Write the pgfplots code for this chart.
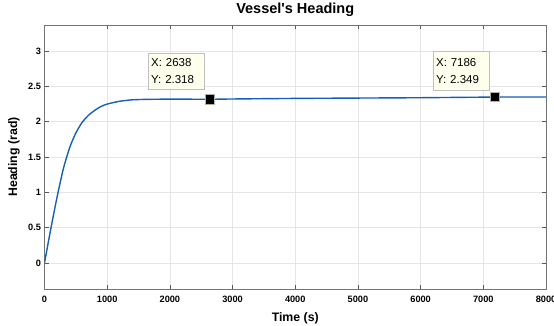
\documentclass[border=0pt]{standalone}
\usepackage{fontspec}
\setmainfont{Liberation Sans}
\usepackage{pgfplots}
\pgfplotsset{compat=1.18}
\definecolor{mblue}{rgb}{0.09,0.37,0.72}
\definecolor{tipbg}{RGB}{255,255,238}
\begin{document}
\begin{tikzpicture}
\begin{axis}[
 scale only axis, width=501.5pt, height=264pt,
 xmin=0, xmax=8000, ymin=-0.37, ymax=3.37,
 xtick={0,1000,...,8000}, ytick={0,0.5,1,1.5,2,2.5,3},
 yticklabels={0,0.5,1,1.5,2,2.5,3},
 grid=major, grid style={color=black!10, line width=0.5pt},
 axis line style={color=black!55, line width=0.7pt},
 tick pos=both, tick align=inside, major tick length=4pt,
 tick style={color=black!65, line width=0.5pt},
 ticklabel style={font=\bfseries\fontsize{9.2}{10}\selectfont},
 xticklabel style={yshift=-3.5pt},
 /pgf/number format/assume math mode=true,
 /pgf/number format/1000 sep={},
 xlabel={Time (s)}, ylabel={Heading (rad)},
 label style={font=\bfseries\fontsize{12.3}{14}\selectfont},
 xlabel style={at={(rel axis cs:0.5,0)}, anchor=base, yshift=-32pt},
 ylabel style={at={(rel axis cs:0,0.5)}, anchor=center, yshift=30.5pt},
 title={Vessel\textquotesingle s Heading},
 title style={font=\bfseries\fontsize{14.5}{16}\selectfont, at={(rel axis cs:0.5,1)}, anchor=base, yshift=5pt},
]
\addplot[color=mblue, line width=1.4pt, smooth, tension=0.4] coordinates {
(0,0) (100,0.48) (200,0.93) (300,1.33) (400,1.63) (500,1.84) (600,1.99)
(700,2.09) (800,2.16) (900,2.215) (1000,2.25) (1200,2.29) (1400,2.31)
(1600,2.316) (2000,2.32) (2638,2.318) (3000,2.322) (4000,2.33)
(5000,2.335) (6000,2.34) (7186,2.349) (8000,2.35)};
\addplot[only marks, mark=square*, mark size=4.6pt,
  mark options={fill=black, draw=tipbg!70!black, line width=0.4pt}]
  coordinates {(2638,2.318) (7186,2.349)};
\node[draw=black!25, fill=tipbg, anchor=north west, align=left,
  font=\fontsize{11.5}{17}\selectfont, inner xsep=3pt, inner ysep=3pt,
  minimum width=56pt, minimum height=36pt, text width=50pt]
  at (axis cs:1651,2.97) {X: 2638\\Y: 2.318};
\node[draw=black!25, fill=tipbg, anchor=north west, align=left,
  font=\fontsize{11.5}{17}\selectfont, inner xsep=3pt, inner ysep=3pt,
  minimum width=56pt, minimum height=39pt, text width=50pt]
  at (axis cs:6196,3.0) {X: 7186\\Y: 2.349};
\coordinate (o) at (rel axis cs:0,0);
\coordinate (t) at (rel axis cs:1,1);
\end{axis}
\pgfresetboundingbox
\path[use as bounding box] ([shift={(-44.5pt,-36pt)}]o) rectangle ([shift={(8pt,25pt)}]t);
\end{tikzpicture}
\end{document}
